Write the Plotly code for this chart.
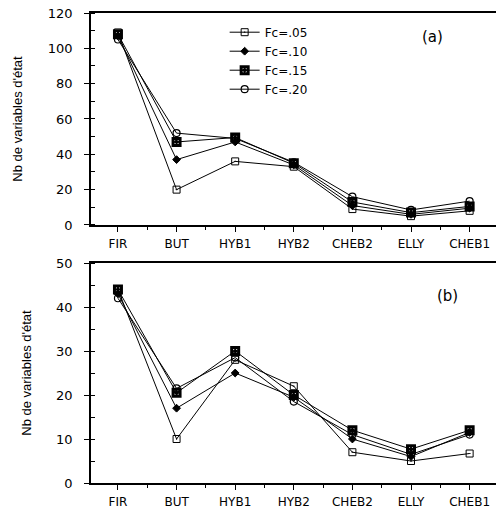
import plotly.graph_objects as go
from plotly.subplots import make_subplots

filtres = ["FIR", "BUT", "HYB1", "HYB2", "CHEB2", "ELLY", "CHEB1"]
fc_labels = ["Fc=.05", "Fc=.10", "Fc=.15", "Fc=.20"]

# panel (a)
a_fc05 = [109, 20, 36, 33, 9, 5, 8]
a_fc10 = [107, 37, 47, 34, 11, 6, 9.5]
a_fc15 = [108, 47, 49.5, 35, 13, 7, 10.5]
a_fc20 = [105, 52, 49, 35.5, 16, 8.5, 13.5]

# panel (b)
b_fc05 = [44, 10, 28, 22, 7, 5, 6.7]
b_fc10 = [43, 17, 25, 19.5, 10, 6, 11.5]
b_fc15 = [44, 20.5, 30, 20, 12, 7.7, 12]
b_fc20 = [42, 21.5, 28.5, 18.5, 11, 6.5, 11]

x = list(range(len(filtres)))

symbols = ["square-open-dot", "diamond", "square-open-dot", "circle-open"]
sym_width = [1, 1, 3, 1.2]
sym_size = [7, 6, 7, 7]

fig = make_subplots(rows=2, cols=1, vertical_spacing=0.08)

for row, series in [(1, [a_fc05, a_fc10, a_fc15, a_fc20]),
                    (2, [b_fc05, b_fc10, b_fc15, b_fc20])]:
    for i, vals in enumerate(series):
        fig.add_trace(go.Scatter(
            x=x, y=vals, mode="lines+markers", name=fc_labels[i],
            showlegend=(row == 1), cliponaxis=False,
            line=dict(color="black", width=1),
            marker=dict(symbol=symbols[i], size=sym_size[i], color="black",
                        line=dict(color="black", width=sym_width[i])),
        ), row=row, col=1)

xtick_font = dict(family="DejaVu Sans", size=12, color="black")
ytick_font = dict(family="DejaVu Sans", size=13, color="black")

for row, (top, dt, mdt) in [(1, (120, 20, 10)), (2, (50, 10, 5))]:
    fig.update_xaxes(
        row=row, col=1, range=[-0.46, 6.45], tickvals=x, ticktext=filtres,
        showgrid=False, zeroline=False, showline=True, linecolor="black",
        linewidth=1.5, mirror=True, ticks="outside", ticklen=5,
        tickcolor="black", tickfont=xtick_font, automargin=False,
        ticklabelstandoff=2, ticklabeloverflow="allow",
        minor=dict(tick0=0.5, dtick=1, ticks="outside", ticklen=3,
                   tickcolor="black"),
    )
    fig.update_yaxes(
        row=row, col=1, range=[0, top], dtick=dt, showgrid=False,
        zeroline=False, showline=True, linecolor="black", linewidth=1.5,
        ticks="outside", ticklen=5, tickcolor="black", tickfont=ytick_font,
        automargin=False, ticklabelstandoff=9, ticklabeloverflow="allow",
        minor=dict(dtick=mdt, ticks="inside", ticklen=4, tickcolor="black"),
        title=dict(text="Nb de variables d'état", standoff=22,
                   font=dict(family="Liberation Sans Narrow, Liberation Sans",
                             size=13, color="black")),
    )

fig.update_layout(
    width=497, height=508,
    margin=dict(l=91, r=1, t=13, b=25),
    plot_bgcolor="white", paper_bgcolor="white",
    yaxis=dict(domain=[0.549, 1]),
    yaxis2=dict(domain=[0, 0.468]),
    legend=dict(x=0.33, y=0.99, xanchor="left", yanchor="top",
                bgcolor="rgba(0,0,0,0)", tracegroupgap=0,
                font=dict(family="DejaVu Sans", size=12, color="black")),
    annotations=[
        dict(text="(a)", xref="x domain", yref="y domain", x=0.875, y=0.94,
             showarrow=False, font=dict(family="DejaVu Sans", size=15, color="black")),
        dict(text="(b)", xref="x2 domain", yref="y2 domain", x=0.91, y=0.9,
             showarrow=False, font=dict(family="DejaVu Sans", size=15, color="black")),
    ],
)

# drop the default body margin so the figure fills the window
fig.write_html("out.html", config={"displayModeBar": False},
               post_script="document.body.style.margin='0px';")
